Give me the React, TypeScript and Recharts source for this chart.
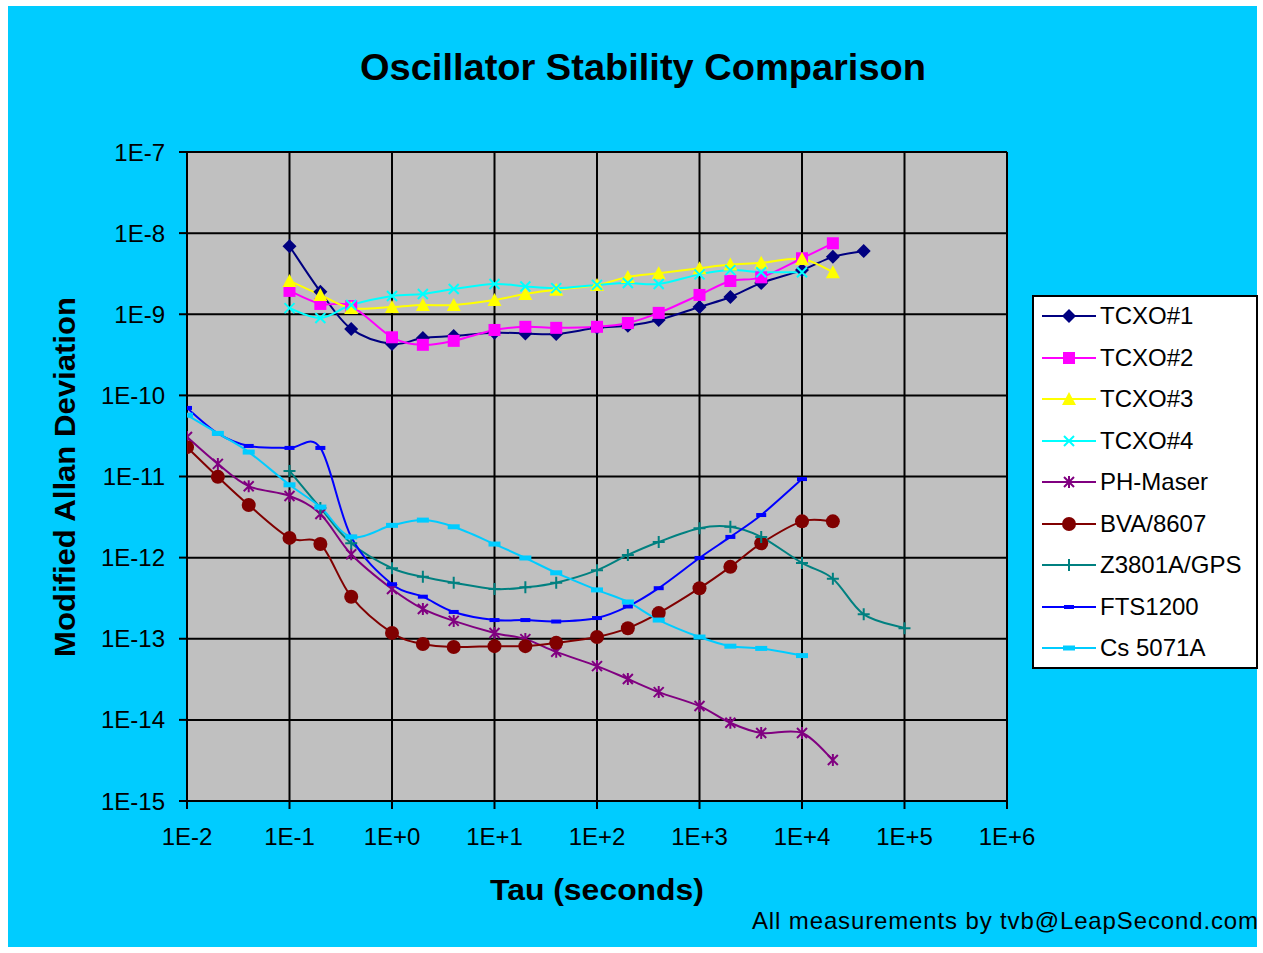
import { CartesianGrid, Line, LineChart, XAxis, YAxis } from "recharts";

const TAU = [
  0.01, 0.02, 0.04, 0.1, 0.2, 0.4, 1, 2, 4, 10, 20, 40, 100, 200, 400, 1000, 2000, 4000, 10000, 20000,
  40000, 100000
];
const X_TICKS = [0.01, 0.1, 1, 10, 100, 1000, 10000, 100000, 1000000];
const Y_TICKS = [1e-15, 1e-14, 1e-13, 1e-12, 1e-11, 1e-10, 1e-9, 1e-8, 1e-7];

const n = null;
const TCXO1 = [n, n, n, 6.9e-9, 1.9e-9, 6.6e-10, 4.3e-10, 5.1e-10, 5.4e-10, 5.9e-10, 5.8e-10, 5.7e-10, 6.8e-10, 7.2e-10, 8.5e-10, 1.23e-9, 1.63e-9, 2.43e-9, 3.5e-9, 5.1e-9, 6.0e-9, n];
const TCXO2 = [n, n, n, 1.94e-9, 1.34e-9, 1.26e-9, 5.2e-10, 4.2e-10, 4.7e-10, 6.4e-10, 7.0e-10, 6.8e-10, 7.0e-10, 7.8e-10, 1.04e-9, 1.73e-9, 2.57e-9, 2.85e-9, 4.9e-9, 7.5e-9, n, n];
const TCXO3 = [n, n, n, 2.57e-9, 1.73e-9, 1.19e-9, 1.23e-9, 1.3e-9, 1.3e-9, 1.5e-9, 1.78e-9, 2.0e-9, 2.3e-9, 2.88e-9, 3.2e-9, 3.7e-9, 4.1e-9, 4.3e-9, 4.8e-9, 3.3e-9, n, n];
const TCXO4 = [n, n, n, 1.19e-9, 9.0e-10, 1.3e-9, 1.68e-9, 1.78e-9, 2.05e-9, 2.36e-9, 2.2e-9, 2.1e-9, 2.3e-9, 2.43e-9, 2.36e-9, 3.1e-9, 3.5e-9, 3.3e-9, 3.3e-9, n, n, n];
const PH_MASER = [3.07e-11, 1.43e-11, 7.6e-12, 5.75e-12, 3.45e-12, 1.1e-12, 4.1e-13, 2.33e-13, 1.66e-13, 1.18e-13, 9.9e-14, 6.9e-14, 4.6e-14, 3.19e-14, 2.2e-14, 1.48e-14, 9.2e-15, 6.9e-15, 6.9e-15, 3.2e-15, n, n];
const BVA = [2.3e-11, 9.9e-12, 4.45e-12, 1.75e-12, 1.47e-12, 3.3e-13, 1.18e-13, 8.6e-14, 7.9e-14, 8.1e-14, 8.1e-14, 8.9e-14, 1.05e-13, 1.35e-13, 2.07e-13, 4.2e-13, 7.7e-13, 1.5e-12, 2.8e-12, 2.8e-12, n, n];
const Z3801A = [n, n, n, 1.17e-11, 4.1e-12, 1.5e-12, 7.4e-13, 5.8e-13, 4.9e-13, 4.1e-13, 4.3e-13, 4.9e-13, 7.0e-13, 1.08e-12, 1.56e-12, 2.3e-12, 2.4e-12, 1.8e-12, 8.6e-13, 5.5e-13, 2.0e-13, 1.35e-13];
const FTS1200 = [7.0e-11, 3.4e-11, 2.38e-11, 2.25e-11, 2.25e-11, 1.8e-12, 4.7e-13, 3.3e-13, 2.14e-13, 1.7e-13, 1.7e-13, 1.63e-13, 1.8e-13, 2.5e-13, 4.2e-13, 9.9e-13, 1.8e-12, 3.35e-12, 9.3e-12, n, n, n];
const CS5071A = [5.7e-11, 3.4e-11, 2.0e-11, 7.9e-12, 4.2e-12, 1.8e-12, 2.5e-12, 2.9e-12, 2.4e-12, 1.47e-12, 9.9e-13, 6.5e-13, 4.0e-13, 2.84e-13, 1.7e-13, 1.05e-13, 8.1e-14, 7.6e-14, 6.2e-14, n, n, n];

type Marker = "diamond" | "square" | "triangle" | "cross" | "star" | "circle" | "plus" | "dash" | "wideDash";

const SERIES: { key: string; name: string; values: (number | null)[]; color: string; marker: Marker }[] = [
  { key: "t1", name: "TCXO#1", values: TCXO1, color: "#000080", marker: "diamond" },
  { key: "t2", name: "TCXO#2", values: TCXO2, color: "#FF00FF", marker: "square" },
  { key: "t3", name: "TCXO#3", values: TCXO3, color: "#FFFF00", marker: "triangle" },
  { key: "t4", name: "TCXO#4", values: TCXO4, color: "#00FFFF", marker: "cross" },
  { key: "ph", name: "PH-Maser", values: PH_MASER, color: "#800080", marker: "star" },
  { key: "bva", name: "BVA/8607", values: BVA, color: "#800000", marker: "circle" },
  { key: "z", name: "Z3801A/GPS", values: Z3801A, color: "#008080", marker: "plus" },
  { key: "fts", name: "FTS1200", values: FTS1200, color: "#0000FF", marker: "dash" },
  { key: "cs", name: "Cs 5071A", values: CS5071A, color: "#00CCFF", marker: "wideDash" }
];

const rows = TAU.map((tau, i) => {
  const row: Record<string, number | null> = { tau };
  SERIES.forEach((s) => (row[s.key] = s.values[i]));
  return row;
});

const fmt = (v: number) => {
  const e = Math.round(Math.log10(v));
  return "1E" + (e >= 0 ? "+" + e : String(e));
};

// excel-like smoothed line (catmull-rom through the points)
const smooth = (ctx: any) => {
  let pts: number[][] = [];
  return {
    areaStart() {},
    areaEnd() {},
    lineStart() {
      pts = [];
    },
    point(x: number, y: number) {
      pts.push([+x, +y]);
    },
    lineEnd() {
      if (!pts.length) return;
      ctx.moveTo(pts[0][0], pts[0][1]);
      for (let i = 0; i < pts.length - 1; i++) {
        const p0 = pts[i - 1] || pts[i];
        const p1 = pts[i];
        const p2 = pts[i + 1];
        const p3 = pts[i + 2] || p2;
        const k = 1 / 6;
        ctx.bezierCurveTo(
          p1[0] + (p2[0] - p0[0]) * k,
          p1[1] + (p2[1] - p0[1]) * k,
          p2[0] - (p3[0] - p1[0]) * k,
          p2[1] - (p3[1] - p1[1]) * k,
          p2[0],
          p2[1]
        );
      }
    }
  };
};

function MarkerShape({ x, y, type, color }: { x: number; y: number; type: Marker; color: string }) {
  switch (type) {
    case "diamond":
      return <path d={`M${x},${y - 7}L${x + 7},${y}L${x},${y + 7}L${x - 7},${y}Z`} fill={color} />;
    case "square":
      return <rect x={x - 6} y={y - 6} width={12} height={12} fill={color} />;
    case "triangle":
      return <path d={`M${x},${y - 7}L${x + 7},${y + 6}L${x - 7},${y + 6}Z`} fill={color} />;
    case "cross":
      return (
        <path d={`M${x - 5},${y - 5}L${x + 5},${y + 5}M${x + 5},${y - 5}L${x - 5},${y + 5}`} stroke={color} strokeWidth={2} />
      );
    case "star":
      return (
        <path
          d={`M${x - 5},${y - 5}L${x + 5},${y + 5}M${x + 5},${y - 5}L${x - 5},${y + 5}M${x},${y - 6}L${x},${y + 6}`}
          stroke={color}
          strokeWidth={2}
        />
      );
    case "circle":
      return <circle cx={x} cy={y} r={7} fill={color} />;
    case "plus":
      return <path d={`M${x - 6},${y}L${x + 6},${y}M${x},${y - 6}L${x},${y + 6}`} stroke={color} strokeWidth={2} />;
    case "dash":
      return <rect x={x - 5} y={y - 2} width={10} height={4} fill={color} />;
    default:
      return <rect x={x - 6} y={y - 2.5} width={12} height={5} fill={color} />;
  }
}

const makeDot = (type: Marker, color: string) => (p: any) => {
  if (p.cx == null || p.cy == null || p.value == null) return <g key={p.key ?? p.index} />;
  return (
    <g key={p.key ?? p.index}>
      <MarkerShape x={p.cx} y={p.cy} type={type} color={color} />
    </g>
  );
};

export default function App() {
  const font = '"Liberation Sans", Arial, sans-serif';
  return (
    <div style={{ position: "absolute", left: 0, top: 0, width: 1263, height: 953, background: "#fff", fontFamily: font }}>
      <div style={{ position: "absolute", left: 8, top: 6, width: 1249, height: 941, background: "#00CCFF" }} />
      <div style={{ position: "absolute", left: 0, top: 0 }}>
        <LineChart width={1263} height={953} data={rows} margin={{ top: 152, right: 256, bottom: 92, left: 0 }}>
          <CartesianGrid
            stroke="#000"
            strokeWidth={2}
            fill="#C0C0C0"
            fillOpacity={1}
            horizontalValues={Y_TICKS}
            verticalValues={X_TICKS}
          />
          <XAxis
            dataKey="tau"
            type="number"
            scale="log"
            domain={[0.01, 1000000]}
            ticks={X_TICKS}
            tickFormatter={fmt}
            allowDataOverflow
            height={60}
            tickSize={8}
            tickMargin={19}
            tick={{ fill: "#000", fontSize: 24 }}
            axisLine={{ stroke: "#000", strokeWidth: 2 }}
            tickLine={{ stroke: "#000", strokeWidth: 2 }}
          />
          <YAxis
            type="number"
            scale="log"
            domain={[1e-15, 1e-7]}
            ticks={Y_TICKS}
            tickFormatter={fmt}
            allowDataOverflow
            width={187}
            tickSize={8}
            tickMargin={14}
            tick={{ fill: "#000", fontSize: 24 }}
            axisLine={{ stroke: "#000", strokeWidth: 2 }}
            tickLine={{ stroke: "#000", strokeWidth: 2 }}
          />
          {SERIES.map((s) => (
            <Line
              key={s.key}
              dataKey={s.key}
              name={s.name}
              type={smooth as any}
              stroke={s.color}
              strokeWidth={2}
              dot={makeDot(s.marker, s.color)}
              activeDot={false}
              isAnimationActive={false}
            />
          ))}
        </LineChart>
      </div>
      <svg width={1263} height={953} style={{ position: "absolute", left: 0, top: 0, pointerEvents: "none" }}>
        <text x={643} y={80} textAnchor="middle" fontSize={37} fontWeight="bold" fill="#000" textLength={566} lengthAdjust="spacingAndGlyphs">
          Oscillator Stability Comparison
        </text>
        <text
          transform="translate(75,477) rotate(-90)"
          textAnchor="middle"
          fontSize={30}
          fontWeight="bold"
          fill="#000"
          textLength={360}
          lengthAdjust="spacingAndGlyphs"
        >
          Modified Allan Deviation
        </text>
        <text x={597} y={900} textAnchor="middle" fontSize={30} fontWeight="bold" fill="#000" textLength={214} lengthAdjust="spacingAndGlyphs">
          Tau (seconds)
        </text>
        <text x={1258} y={929} textAnchor="end" fontSize={24} fill="#000" textLength={506} lengthAdjust="spacing">
          All measurements by tvb@LeapSecond.com
        </text>
      </svg>
      <div
        style={{
          position: "absolute",
          left: 1032,
          top: 295,
          width: 226,
          height: 374,
          boxSizing: "border-box",
          border: "2px solid #000",
          background: "#fff"
        }}
      >
        {SERIES.map((s, i) => (
          <div key={s.key} style={{ position: "absolute", left: 0, top: 5 + i * 41.5, height: 28, width: 222 }}>
            <svg width={60} height={28} style={{ position: "absolute", left: 6, top: 0 }}>
              <line x1={2} y1={14} x2={56} y2={14} stroke={s.color} strokeWidth={2} />
              <MarkerShape x={29} y={14} type={s.marker} color={s.color} />
            </svg>
            <span style={{ position: "absolute", left: 66, top: 0, lineHeight: "28px", fontSize: 24, color: "#000" }}>{s.name}</span>
          </div>
        ))}
      </div>
    </div>
  );
}
